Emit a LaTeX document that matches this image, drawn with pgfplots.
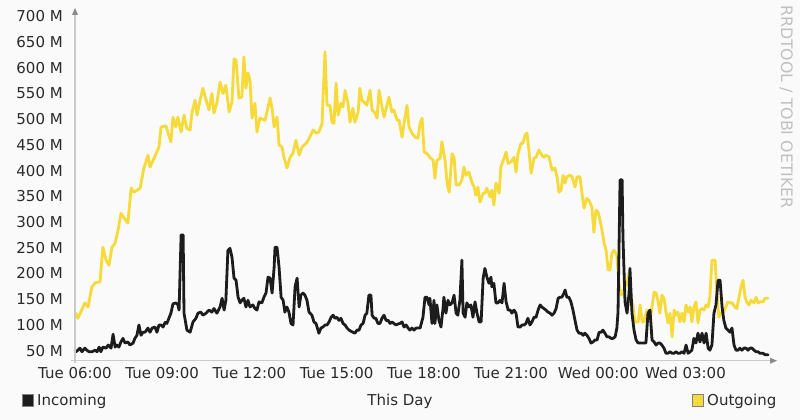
\documentclass[border=0pt]{standalone}
\usepackage{pgfplots}
\pgfplotsset{compat=1.18}
\usepackage{fontspec}
\setmainfont{DejaVu Sans}
\definecolor{bg}{HTML}{FAFAFA}
\definecolor{inc}{HTML}{1C1C1C}
\definecolor{outg}{HTML}{F5DA3A}
\definecolor{axgray}{HTML}{CACACA}
\definecolor{arrgray}{HTML}{8A8A8A}
\definecolor{txt}{HTML}{2A2A2A}
\definecolor{wm}{HTML}{C0C0C0}
\newcommand\lbl{\fontsize{15}{18}\selectfont}
\newcommand\wmf{\fontsize{15.8}{18}\selectfont}
\pgfplotstableread{
h v
6.03 123
6.10 113
6.34 143
6.45 135
6.58 174
6.69 182
6.86 184
6.96 251
7.07 226
7.17 216
7.27 251
7.38 259
7.48 284
7.58 317
7.69 308
7.82 298
7.93 366
8.03 358
8.24 366
8.37 405
8.51 430
8.58 407
8.72 424
8.89 446
8.96 485
9.13 487
9.20 473
9.30 456
9.37 504
9.47 485
9.54 504
9.65 475
9.75 508
9.85 482
9.96 479
10.02 512
10.13 537
10.20 508
10.30 537
10.40 560
10.51 537
10.61 518
10.71 550
10.78 512
10.88 531
10.99 572
11.09 550
11.19 566
11.30 514
11.40 533
11.47 617
11.54 615
11.64 541
11.74 543
11.81 621
11.88 560
11.95 590
12.02 576
12.09 502
12.19 531
12.26 475
12.36 502
12.54 498
12.71 541
12.78 521
12.85 485
12.95 504
13.02 450
13.12 446
13.19 426
13.29 405
13.40 426
13.50 434
13.60 459
13.71 430
13.81 446
13.95 453
14.05 462
14.19 479
14.29 473
14.39 475
14.50 492
14.53 541
14.60 631
14.67 527
14.77 527
14.84 494
14.91 492
14.98 570
15.05 508
15.15 531
15.22 524
15.29 556
15.39 531
15.46 494
15.56 521
15.63 494
15.74 514
15.80 560
15.87 537
15.98 531
16.04 527
16.15 556
16.22 518
16.32 512
16.39 502
16.46 556
16.56 524
16.63 504
16.73 527
16.80 543
16.90 514
16.97 518
17.08 498
17.15 498
17.25 465
17.32 492
17.42 527
17.49 485
17.59 473
17.70 465
17.80 463
17.87 492
17.94 502
18.01 436
18.11 433
18.21 426
18.32 420
18.38 385
18.45 420
18.56 424
18.62 456
18.73 420
18.80 376
18.87 358
18.97 433
19.04 426
19.11 372
19.21 372
19.31 382
19.38 407
19.45 391
19.55 397
19.66 376
19.73 368
19.79 352
19.86 368
19.93 339
20.04 356
20.10 356
20.17 366
20.28 349
20.34 362
20.41 333
20.48 376
20.59 356
20.65 407
20.76 424
20.83 436
20.90 414
21.00 417
21.10 426
21.17 397
21.24 433
21.34 453
21.41 453
21.48 469
21.55 473
21.62 436
21.69 395
21.79 424
21.86 426
21.96 440
22.06 430
22.13 426
22.20 430
22.31 426
22.41 401
22.51 405
22.58 388
22.65 358
22.72 362
22.79 391
22.86 376
22.92 388
23.03 391
23.10 388
23.20 368
23.27 388
23.37 388
23.44 356
23.51 327
23.61 346
23.68 342
23.78 329
23.85 280
23.92 323
23.99 320
24.06 304
24.13 284
24.20 259
24.27 245
24.34 207
24.40 207
24.47 240
24.54 245
24.64 236
24.71 181
24.78 158
24.85 162
24.92 174
24.99 181
25.06 201
25.13 154
25.20 135
25.26 106
25.37 106
25.44 139
25.51 106
25.57 106
25.68 129
25.75 123
25.81 119
25.92 164
25.99 162
26.06 145
26.12 123
26.19 158
26.26 152
26.33 125
26.40 104
26.47 123
26.54 77
26.61 129
26.67 119
26.74 125
26.81 106
26.88 123
26.95 106
27.02 139
27.09 125
27.16 135
27.22 106
27.29 135
27.36 145
27.43 104
27.50 129
27.57 132
27.64 129
27.71 139
27.78 135
27.84 154
27.91 226
28.02 226
28.08 162
28.15 115
28.22 123
28.29 123
28.39 135
28.46 145
28.53 143
28.60 143
28.70 135
28.77 132
28.84 154
28.91 174
28.98 187
29.05 154
29.12 143
29.19 139
29.25 148
29.36 143
29.43 154
29.50 143
29.56 145
29.67 145
29.74 152
29.84 152
}\outgoing
\pgfplotstableread{
h v
6.03 48
6.10 51
6.17 55
6.24 48
6.34 55
6.41 51
6.48 48
6.58 48
6.69 51
6.76 48
6.83 57
6.89 48
6.96 57
7.07 55
7.14 61
7.24 55
7.31 82
7.38 57
7.44 61
7.51 57
7.58 67
7.65 74
7.72 65
7.82 67
7.89 61
8.00 65
8.06 74
8.13 80
8.20 100
8.27 80
8.34 86
8.41 86
8.51 94
8.58 86
8.65 94
8.75 96
8.82 86
8.89 100
8.96 100
9.03 96
9.10 105
9.16 103
9.23 113
9.30 123
9.37 141
9.47 143
9.54 139
9.58 129
9.65 275
9.72 275
9.75 123
9.85 90
9.96 86
10.06 106
10.16 113
10.23 123
10.33 125
10.40 119
10.51 123
10.61 129
10.71 125
10.78 132
10.88 123
10.99 135
11.06 152
11.13 129
11.19 148
11.26 245
11.33 249
11.40 232
11.47 191
11.54 187
11.61 154
11.68 143
11.74 148
11.81 152
11.88 135
11.95 148
12.02 135
12.12 139
12.19 132
12.26 129
12.33 145
12.43 143
12.50 154
12.57 162
12.64 193
12.71 191
12.78 162
12.85 212
12.88 251
12.95 251
13.02 212
13.09 154
13.16 148
13.22 125
13.29 135
13.36 125
13.43 103
13.50 100
13.57 174
13.64 191
13.71 135
13.77 158
13.84 162
13.91 158
13.98 148
14.05 125
14.15 119
14.22 106
14.29 103
14.36 90
14.39 84
14.46 94
14.53 96
14.60 100
14.67 100
14.74 106
14.81 115
14.88 119
14.94 113
15.01 115
15.08 109
15.15 113
15.22 103
15.29 100
15.36 94
15.43 90
15.49 88
15.56 86
15.63 84
15.70 90
15.77 90
15.84 100
15.91 103
15.98 119
16.04 123
16.11 158
16.18 158
16.22 119
16.29 113
16.35 113
16.42 103
16.49 103
16.56 113
16.63 119
16.70 109
16.77 109
16.84 103
16.90 106
16.97 103
17.04 100
17.11 102
17.18 103
17.25 106
17.32 96
17.39 100
17.46 94
17.52 90
17.59 94
17.66 90
17.73 94
17.80 94
17.87 94
17.90 100
17.97 115
18.04 154
18.11 154
18.18 139
18.21 152
18.28 103
18.35 148
18.38 103
18.45 139
18.52 109
18.59 96
18.66 132
18.69 154
18.76 123
18.83 148
18.90 139
18.97 143
19.04 158
19.11 123
19.17 119
19.24 148
19.31 226
19.35 123
19.42 115
19.48 143
19.55 135
19.62 139
19.69 115
19.76 145
19.83 123
19.90 106
19.97 106
20.04 191
20.10 210
20.17 193
20.24 181
20.31 193
20.34 174
20.41 181
20.48 143
20.55 143
20.62 148
20.69 143
20.76 181
20.83 145
20.90 129
20.97 129
21.03 123
21.10 129
21.17 123
21.24 96
21.31 96
21.38 100
21.45 100
21.51 103
21.58 113
21.65 100
21.72 106
21.79 115
21.86 115
21.93 129
22.00 139
22.06 135
22.13 132
22.20 129
22.27 125
22.34 123
22.41 119
22.48 123
22.55 132
22.62 152
22.68 154
22.75 154
22.82 162
22.86 168
22.92 154
22.99 154
23.06 145
23.13 129
23.20 109
23.27 90
23.34 84
23.41 84
23.48 80
23.54 84
23.61 80
23.68 74
23.75 65
23.82 67
23.89 71
23.96 71
24.03 86
24.10 86
24.16 90
24.23 84
24.30 77
24.37 77
24.44 74
24.51 74
24.58 77
24.64 94
24.68 125
24.75 382
24.82 382
24.85 271
24.92 145
24.99 123
25.06 162
25.09 210
25.16 123
25.23 90
25.30 71
25.37 65
25.44 65
25.51 65
25.57 65
25.64 65
25.71 123
25.78 129
25.85 71
25.92 67
25.99 61
26.06 65
26.12 65
26.19 61
26.26 55
26.33 45
26.40 45
26.47 48
26.54 45
26.61 45
26.67 48
26.74 45
26.81 45
26.88 48
26.95 45
27.02 61
27.09 45
27.16 48
27.22 51
27.29 74
27.36 65
27.43 84
27.50 67
27.57 84
27.64 65
27.71 84
27.78 55
27.84 51
27.91 61
27.98 123
28.05 139
28.12 187
28.19 187
28.26 135
28.32 109
28.39 94
28.46 90
28.53 86
28.60 94
28.67 61
28.74 51
28.81 51
28.87 55
28.94 51
29.01 55
29.08 55
29.15 51
29.22 55
29.29 55
29.36 51
29.43 48
29.50 48
29.56 45
29.67 45
29.74 42
29.84 42
}\incoming
\begin{document}
\begin{tikzpicture}[x=1pt,y=1pt]
\fill[bg] (0,0) rectangle (800,420);
\begin{axis}[
  at={(75pt,59.3pt)}, anchor=south west,
  scale only axis, width=700pt, height=348.7pt,
  xmin=6, xmax=30.08, ymin=30.6, ymax=708.3,
  axis line style={draw=none},
  major tick style={draw=none},
  xtick={6,9,12,15,18,21,24,27},
  xticklabels={Tue 06:00,Tue 09:00,Tue 12:00,Tue 15:00,Tue 18:00,Tue 21:00,Wed 00:00,Wed 03:00},
  ytick={50,100,150,200,250,300,350,400,450,500,550,600,650,700},
  yticklabels={50 M,100 M,150 M,200 M,250 M,300 M,350 M,400 M,450 M,500 M,550 M,600 M,650 M,700 M},
  xticklabel style={font=\lbl, text=txt, inner sep=0pt, anchor=base, yshift=-18.3pt},
  yticklabel style={font=\lbl, text=txt, inner sep=0pt, anchor=east, xshift=-12pt},
  every axis plot/.append style={line join=round, line cap=round},
]
\addplot[draw=outg, line width=2.8pt] table[x=h,y=v] {\outgoing};
\addplot[draw=inc, line width=2.8pt] table[x=h,y=v] {\incoming};
\end{axis}
% axis lines with arrows
\draw[axgray, line width=1.6pt] (75,57) -- (75,405);
\fill[arrgray] (72,405) -- (78,405) -- (75,412) -- cycle;
\draw[axgray, line width=1.6pt] (71,59.3) -- (770,59.3);
\fill[arrgray] (770,56.3) -- (770,62.3) -- (777,59.3) -- cycle;
% legend
\filldraw[fill=inc, draw=gray, line width=0.8pt] (22,13.5) rectangle (33,25.5);
\node[anchor=base west, inner sep=0pt, font=\lbl, text=txt] at (37,14) {Incoming};
\node[anchor=base, inner sep=0pt, font=\lbl, text=txt] at (400,14) {This Day};
\filldraw[fill=outg, draw=gray, line width=0.8pt] (692,13.5) rectangle (703,25.5);
\node[anchor=base west, inner sep=0pt, font=\lbl, text=txt] at (707,14) {Outgoing};
\node[rotate=-90, anchor=base west, inner sep=0pt, font=\wmf, text=wm] at (781,415) {RRDTOOL / TOBI OETIKER};
\pgfresetboundingbox
\path (0,0) rectangle (800,420);
\end{tikzpicture}
\end{document}
